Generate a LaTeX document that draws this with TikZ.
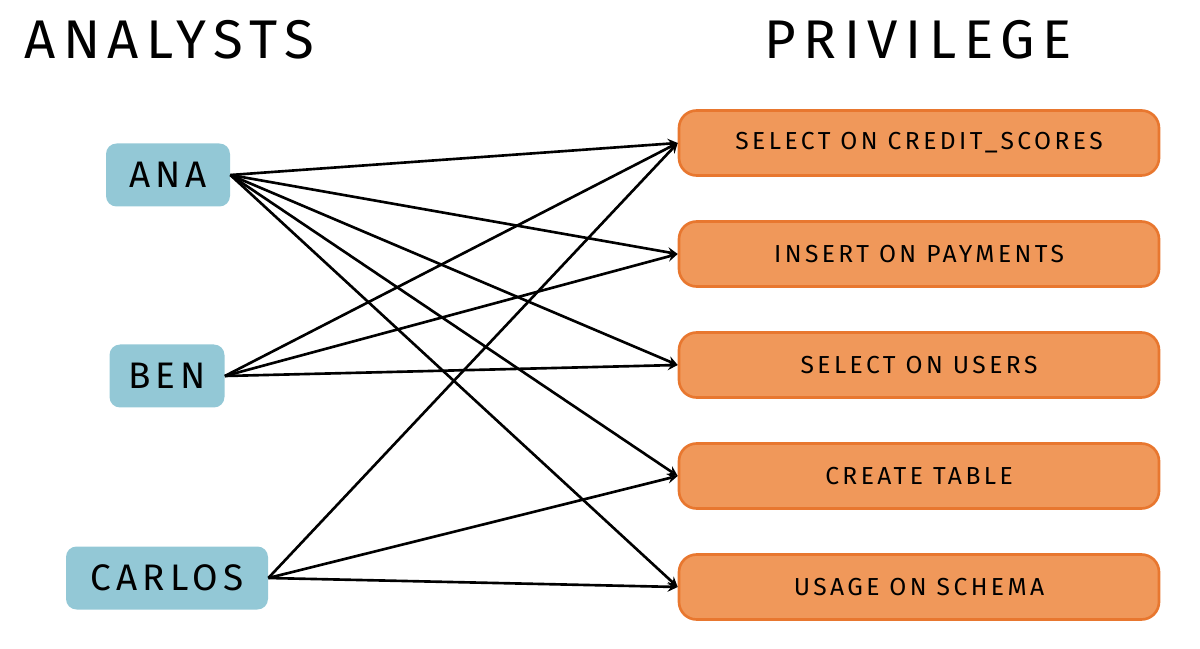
\documentclass[tikz,border=0pt]{standalone}
\usepackage{fontspec}
\setmainfont{Fira Sans}[LetterSpace=14]
\definecolor{analystblue}{HTML}{93C8D6}
\definecolor{privfill}{HTML}{F0985A}
\definecolor{privdraw}{HTML}{E8772F}
\tikzset{
  analyst/.style={rounded corners=6pt, fill=analystblue, minimum height=1.26cm, font=\fontsize{21}{25}\selectfont},
  priv/.style={rounded corners=10pt, fill=privfill, draw=privdraw, line width=1.5pt, minimum width=9.6cm, minimum height=1.3cm, font=\fontsize{14}{17}\selectfont},
  title/.style={font=\fontsize{31}{36}\selectfont},
  link/.style={-stealth, line width=1.5pt}
}
\begin{document}
\begin{tikzpicture}
	\useasboundingbox (0,0) rectangle (24,12.96);
	\node[title] (analysts) at (3.38, 12.16) {ANALYSTS};
	\node[title] (privilege) at (18.36, 12.16) {PRIVILEGE};

	\node[analyst, minimum width=2.48cm] (ana) 	at (3.36, 9.46) {ANA};
	\node[analyst, minimum width=2.3cm] (ben) 	at (3.34, 5.44) {BEN};
	\node[analyst, minimum width=4.04cm] (carlos) 	at (3.34, 1.4) {CARLOS};

	\node[priv] (credit) 	at (18.38, 10.1) {SELECT ON CREDIT\_SCORES};
	\node[priv] (payments) 	at (18.38, 7.88) {INSERT ON PAYMENTS};
	\node[priv] (users) 	at (18.38, 5.66) {SELECT ON USERS};
	\node[priv] (table) 	at (18.38, 3.44) {CREATE TABLE};
	\node[priv] (schema) 	at (18.38, 1.22) {USAGE ON SCHEMA};

	\foreach \p in {credit, payments, users, table, schema}
		\draw[link] (ana.east) -- (\p.west);
	\foreach \p in {credit, payments, users}
		\draw[link] (ben.east) -- (\p.west);
	\foreach \p in {credit, table, schema}
		\draw[link] (carlos.east) -- (\p.west);
\end{tikzpicture}
\end{document}
